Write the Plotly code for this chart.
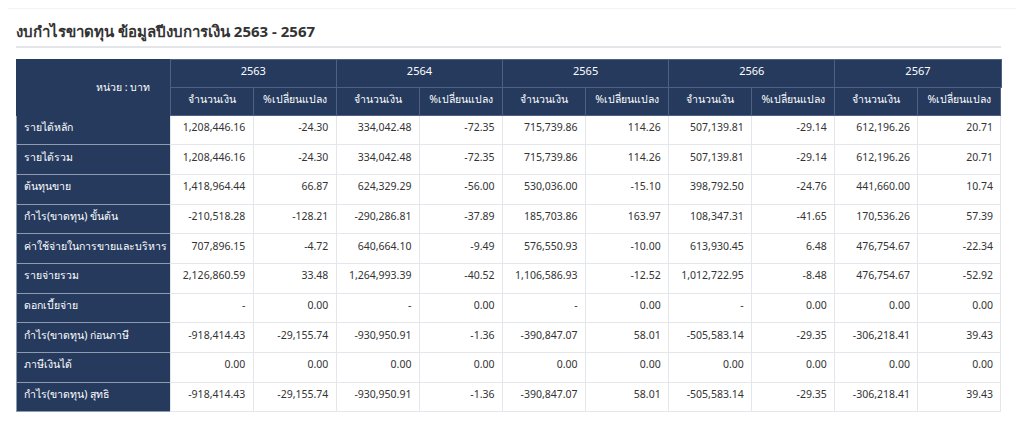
import plotly.graph_objects as go

W, H = 1024, 424

years = ["2563", "2564", "2565", "2566", "2567"]
sub_labels = ["จำนวนเงิน", "%เปลี่ยนแปลง"]
row_labels = [
    "รายได้หลัก", "รายได้รวม", "ต้นทุนขาย", "กำไร(ขาดทุน) ขั้นต้น",
    "ค่าใช้จ่ายในการขายและบริหาร", "รายจ่ายรวม", "ดอกเบี้ยจ่าย",
    "กำไร(ขาดทุน) ก่อนภาษี", "ภาษีเงินได้", "กำไร(ขาดทุน) สุทธิ",
]
amount_2563 = ["1,208,446.16", "1,208,446.16", "1,418,964.44", "-210,518.28", "707,896.15", "2,126,860.59", "-", "-918,414.43", "0.00", "-918,414.43"]
pct_2563 = ["-24.30", "-24.30", "66.87", "-128.21", "-4.72", "33.48", "0.00", "-29,155.74", "0.00", "-29,155.74"]
amount_2564 = ["334,042.48", "334,042.48", "624,329.29", "-290,286.81", "640,664.10", "1,264,993.39", "-", "-930,950.91", "0.00", "-930,950.91"]
pct_2564 = ["-72.35", "-72.35", "-56.00", "-37.89", "-9.49", "-40.52", "0.00", "-1.36", "0.00", "-1.36"]
amount_2565 = ["715,739.86", "715,739.86", "530,036.00", "185,703.86", "576,550.93", "1,106,586.93", "-", "-390,847.07", "0.00", "-390,847.07"]
pct_2565 = ["114.26", "114.26", "-15.10", "163.97", "-10.00", "-12.52", "0.00", "58.01", "0.00", "58.01"]
amount_2566 = ["507,139.81", "507,139.81", "398,792.50", "108,347.31", "613,930.45", "1,012,722.95", "-", "-505,583.14", "0.00", "-505,583.14"]
pct_2566 = ["-29.14", "-29.14", "-24.76", "-41.65", "6.48", "-8.48", "0.00", "-29.35", "0.00", "-29.35"]
amount_2567 = ["612,196.26", "612,196.26", "441,660.00", "170,536.26", "476,754.67", "476,754.67", "0.00", "-306,218.41", "0.00", "-306,218.41"]
pct_2567 = ["20.71", "20.71", "10.74", "57.39", "-22.34", "-52.92", "0.00", "39.43", "0.00", "39.43"]

data_cols = [amount_2563, pct_2563, amount_2564, pct_2564, amount_2565, pct_2565,
             amount_2566, pct_2566, amount_2567, pct_2567]

NAVY = "#263a5e"
FONT = "Noto Sans, sans-serif"
OFF = 8  # page body margin


def px_x(px):
    return (px - OFF) / W


def py(px):
    return 1 - (px - OFF) / H


fig = go.Figure()

# year row
fig.add_trace(go.Table(
    domain=dict(x=[px_x(16), px_x(1001)], y=[py(88), py(59)]),
    columnwidth=[155] + [167] * 5,
    header=dict(
        values=[""] + years,
        fill_color=NAVY,
        line=dict(color=[NAVY] + ["#4e6084"] * 5, width=1),
        font=dict(color="white", size=11, family=FONT),
        align="center", height=28,
    ),
    cells=dict(values=[[] for _ in range(6)], height=1),
))

# sub header + body
fig.add_trace(go.Table(
    domain=dict(x=[px_x(16), px_x(1001)], y=[py(424), py(87)]),
    columnwidth=[155] + [83.5] * 10,
    header=dict(
        values=[""] + sub_labels * 5,
        fill_color=NAVY,
        line=dict(color=[NAVY] + ["#4e6084"] * 10, width=1),
        font=dict(color="white", size=10.5, family=FONT),
        align="center", height=28,
    ),
    cells=dict(
        values=[row_labels] + data_cols,
        fill_color=[NAVY] + ["white"] * 10,
        line=dict(color=["#8d9ab0"] + ["#e3e6ea"] * 10, width=1),
        font=dict(color=["white"] + ["#333333"] * 10, size=10.5, family=FONT),
        align=["left"] + ["right"] * 10,
        height=29.7,
    ),
))

fig.add_annotation(x=px_x((16 + 171) / 2), y=py(87), xref="paper", yref="paper",
                   yanchor="middle", text="หน่วย : บาท", showarrow=False,
                   font=dict(color="white", size=10.5, family=FONT))

fig.add_annotation(x=px_x(14), y=py(32), xref="paper", yref="paper", xanchor="left",
                   yanchor="middle",
                   text="<b>งบกำไรขาดทุน ข้อมูลปีงบการเงิน 2563 - 2567</b>", showarrow=False,
                   font=dict(color="#333333", size=15, family=FONT))

fig.add_shape(type="rect", xref="paper", yref="paper", x0=px_x(5), x1=px_x(1018),
              y0=-0.05, y1=py(8), fillcolor="white", line=dict(color="#e6e8eb", width=1),
              layer="below")
fig.add_shape(type="line", xref="paper", yref="paper", x0=px_x(16), x1=px_x(1001),
              y0=py(47), y1=py(47), line=dict(color="#c8ccd2", width=1))

fig.update_layout(width=W, height=H, margin=dict(l=0, r=0, t=0, b=0),
                  paper_bgcolor="#eef0f3", plot_bgcolor="#eef0f3")

fig.write_html("out.html")
